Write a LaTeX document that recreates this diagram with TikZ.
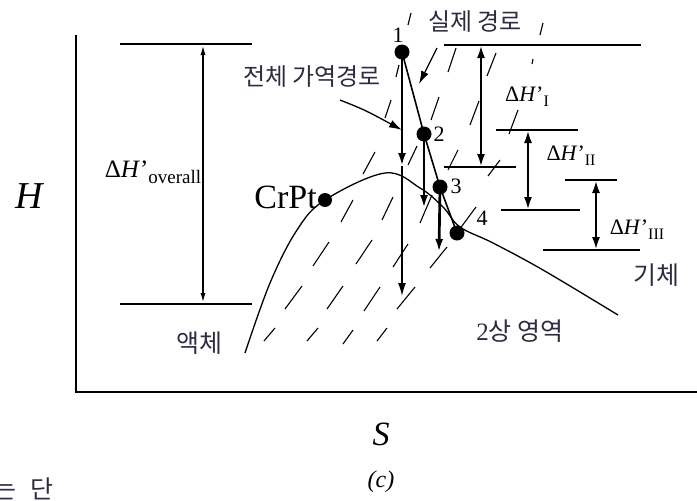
\documentclass[tikz,border=0pt]{standalone}
\usepackage{fontspec}
\setmainfont{Liberation Serif}
\newfontfamily\kr{Noto Sans CJK KR}
\usetikzlibrary{arrows.meta}
\definecolor{krtext}{RGB}{45,45,65}
\begin{document}
\begin{tikzpicture}[x=1pt,y=-1pt,
  axisline/.style={line width=2.8pt},
  levelline/.style={line width=2.7pt},
  thinlevel/.style={line width=1.4pt},
  pathline/.style={line width=1.6pt},
  envelope/.style={line width=1.3pt},
  hatch/.style={line width=1.1pt},
  dot/.style={circle,fill=black,inner sep=0pt,minimum size=15pt},
  dbl/.style={line width=2.5pt,{Latex[length=13pt,width=8pt]}-{Latex[length=13pt,width=8pt]}},
  downarrow/.style={line width=2.7pt,-{Latex[length=13pt,width=8pt]}},
  thinarrow/.style={line width=1.4pt,-{Latex[length=13pt,width=8pt]}},
  krlab/.style={font=\kr\fontsize{24}{24}\selectfont,text=krtext,inner sep=0pt},
  numlab/.style={font=\fontsize{22}{22}\selectfont,inner sep=0pt},
  dlab/.style={font=\fontsize{22}{22}\selectfont,inner sep=0pt},
]
\useasboundingbox (0,0) rectangle (697,501);

% axes
\coordinate (ytop) at (76,35);
\coordinate (orig) at (76,392);
\coordinate (xend) at (697,392);
\draw[axisline] (ytop) -- (orig) -- (xend);
\node[font=\fontsize{38}{38}\selectfont\itshape,inner sep=0pt] (hlab) at (29,196) {H};
\node[font=\fontsize{34}{34}\selectfont\itshape,inner sep=0pt] (slab) at (381,434) {S};
\node[font=\fontsize{24}{24}\selectfont\itshape,inner sep=0pt] (clab) at (381,482) {(c)};
\node[font=\kr\fontsize{25}{25}\selectfont,text=krtext,inner sep=0pt,anchor=east] (cut) at (54,489) {는\hspace{14pt}단};

% overall levels
\coordinate (oa1) at (120,44); \coordinate (oa2) at (252,44);
\coordinate (ob1) at (120,304); \coordinate (ob2) at (252,304);
\draw[thinlevel] (oa1) -- (oa2);
\draw[thinlevel] (ob1) -- (ob2);
\coordinate (ovt) at (203,44); \coordinate (ovb) at (203,304);
\draw[line width=2pt,{Latex[length=11pt,width=5pt]}-{Latex[length=11pt,width=5pt]}] (ovb) -- (ovt);
\node[inner sep=0pt] (ovlab) at (153,172) {{\fontsize{25}{25}\selectfont Δ\textit{H}’}{\fontsize{19}{19}\selectfont\raisebox{-6pt}{overall}}};

% hatching of the two-phase region
\foreach \a/\b/\c/\d in {411/13/408/25, 543/23/540/35, 456/48/448/72, 496/53/487/76,
  533/59/532/64, 399/65/396/77, 391/100/385/118, 439/97/431/120, 479/101/470/125,
  518/110/509/134, 417/146/408/165, 458/150/448/170, 500/160/488/176, 375/152/363/174,
  393/197/382/220, 432/195/420/223, 476/207/459/230, 353/200/341/222, 372/240/356/264,
  329/242/313/266, 408/244/393/267, 447/247/430/268, 302/286/285/309, 343/286/327/309,
  380/287/364/311, 415/287/397/309, 275/328/264/341, 318/328/307/341, 353/330/343/344,
  387/328/377/341}
  \draw[hatch] (\a,\b) -- (\c,\d);

% envelope
\draw[envelope] plot[smooth,tension=0.6] coordinates {(245,353) (270,283) (297,230) (325,200) (385,173) (420,188) (443,207) (460,227) (493,243) (543,270) (618,315)};

% right levels
\coordinate (l1a) at (444,45); \coordinate (l1b) at (641,45);
\coordinate (l2a) at (444,167); \coordinate (l2b) at (516,167);
\coordinate (l3a) at (496,130); \coordinate (l3b) at (578,130);
\coordinate (l4a) at (501,210); \coordinate (l4b) at (580,210);
\coordinate (l5a) at (565,180); \coordinate (l5b) at (617,180);
\coordinate (l6a) at (543,250); \coordinate (l6b) at (640,250);
\foreach \p in {1,...,6} \draw[levelline] (l\p a) -- (l\p b);
\coordinate (d1t) at (481,45); \coordinate (d1b) at (481,167);
\coordinate (d2t) at (528,130); \coordinate (d2b) at (528,210);
\coordinate (d3t) at (596,180); \coordinate (d3b) at (596,250);
\draw[dbl] (d1t) -- (d1b);
\draw[dbl] (d2t) -- (d2b);
\draw[dbl] (d3t) -- (d3b);
\node[dlab] (dh1) at (527,97) {Δ\textit{H}’{\fontsize{16}{16}\selectfont\raisebox{-5pt}{I}}};
\node[dlab] (dh2) at (571,156) {Δ\textit{H}’{\fontsize{16}{16}\selectfont\raisebox{-5pt}{II}}};
\node[dlab] (dh3) at (637,230) {Δ\textit{H}’{\fontsize{16}{16}\selectfont\raisebox{-5pt}{III}}};

% points and paths
\node[dot] (n1) at (402,52) {};
\node[dot] (n2) at (424,134) {};
\node[dot] (n3) at (440,187) {};
\node[dot] (n4) at (457,233) {};
\node[dot,minimum size=14pt] (ncr) at (325,200) {};
\draw[pathline] (n1.center) -- (n2.center) -- (n3.center) -- (n4.center);
\coordinate (a1) at (402,166);
\coordinate (a1b) at (402,296);
\coordinate (a2) at (424,208);
\coordinate (a3) at (439,252);
\draw[downarrow] (n1.center) -- (a1);
\draw[thinarrow] (a1) -- (a1b);
\draw[downarrow] (n2.center) -- (a2);
\draw[downarrow] (n3.center) -- (a3);
\node[numlab] (t1) at (398,35) {1};
\node[numlab] (t2) at (439,134) {2};
\node[numlab] (t3) at (456,186) {3};
\node[numlab] (t4) at (482,218) {4};
\node[font=\fontsize{34}{34}\selectfont,inner sep=0pt,anchor=east] (crlab) at (317,197) {CrPt};

% labels with arrows
\node[krlab] (rev) at (312,77) {전체 가역경로};
\coordinate (ra1) at (340,100);
\coordinate (ra2) at (402,130);
\draw[line width=1.3pt,-{Latex[length=13pt,width=8pt]}] (ra1) .. controls (365,110) .. (ra2);
\node[krlab] (act) at (475,22) {실제 경로};
\coordinate (sa1) at (437,48);
\coordinate (sa2) at (419,84);
\draw[line width=1.3pt,-{Latex[length=13pt,width=8pt]}] (sa1) -- (sa2);

\node[krlab,font=\kr\fontsize{25}{25}\selectfont] (liq) at (199,343) {액체};
\node[krlab,font=\kr\fontsize{25}{25}\selectfont] (gas) at (656,275) {기체};
\node[krlab,font=\kr\fontsize{25}{25}\selectfont] (two) at (520,331) {{\rmfamily 2}상 영역};
\end{tikzpicture}
\end{document}
